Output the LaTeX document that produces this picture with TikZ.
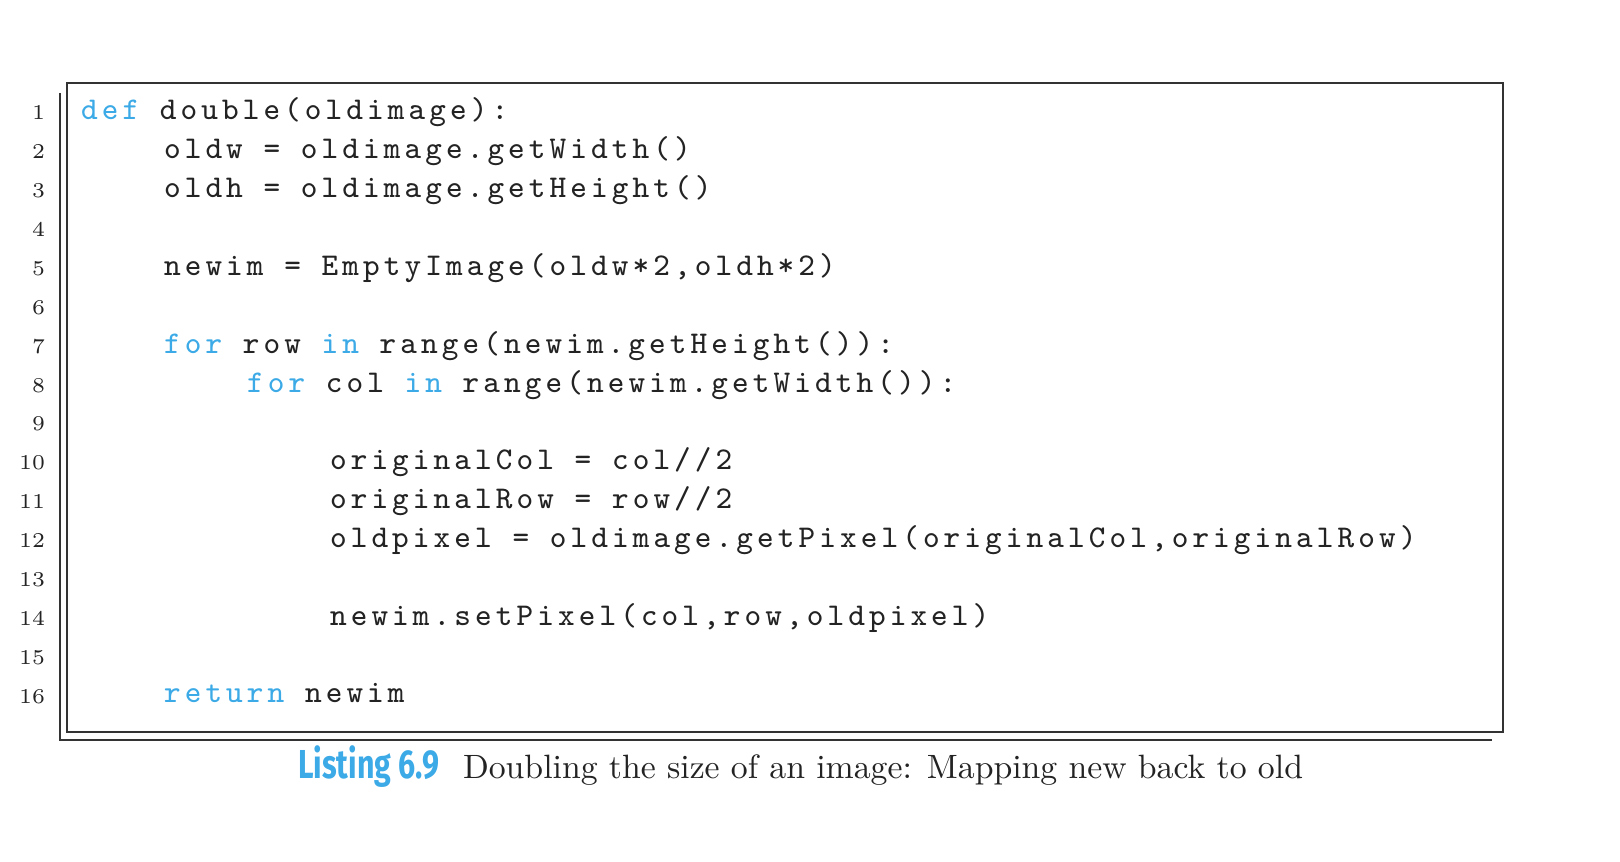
\documentclass[tikz,border=0pt]{standalone}
\usepackage{fontspec}
\usepackage{graphicx}
\newfontfamily\codefont{Latin Modern Mono}[LetterSpace=13]
\newfontfamily\capfont{Fira Sans}
\definecolor{kwblue}{RGB}{60,170,230}
\definecolor{codegray}{RGB}{35,35,35}
\newcommand{\kw}[1]{\textcolor{kwblue}{#1}}

\tikzset{
  code/.style={anchor=base west, inner sep=0pt, text=codegray, font=\codefont\fontsize{9}{10}\selectfont},
  lnum/.style={anchor=base east, inner sep=0pt, text=codegray, font=\fontsize{6}{8}\selectfont},
}

\begin{document}
\begin{tikzpicture}[x=0.01cm, y=-0.01cm, line width=0.6pt]
  \useasboundingbox (0,0) rectangle (1620,862);
  % frame with offset rule
  \draw[draw=black!80] (67,83) rectangle (1503,732);
  \draw[draw=black!80] (60,93) -- (60,740) -- (1492,740);
  % line numbers
  \foreach \i in {1,...,16}
    \node[lnum] (n\i) at (46,{120+(\i-1)*38.87}) {\i};
  % code
  \node[code] (l1)  at (80,120)    {\kw{def} double(oldimage):};
  \node[code] (l2)  at (163,158.9) {oldw = oldimage.getWidth()};
  \node[code] (l3)  at (163,197.7) {oldh = oldimage.getHeight()};
  \node[code] (l5)  at (163,275.5) {newim = EmptyImage(oldw*2,oldh*2)};
  \node[code] (l7)  at (163,353.2) {\kw{for} row \kw{in} range(newim.getHeight()):};
  \node[code] (l8)  at (246,392.1) {\kw{for} col \kw{in} range(newim.getWidth()):};
  \node[code] (l10) at (329,469.8) {originalCol = col//2};
  \node[code] (l11) at (329,508.7) {originalRow = row//2};
  \node[code] (l12) at (329,547.6) {oldpixel = oldimage.getPixel(originalCol,originalRow)};
  \node[code] (l14) at (329,625.4) {newim.setPixel(col,row,oldpixel)};
  \node[code] (l16) at (163,703)   {\kw{return} newim};
  % caption
  \node[anchor=base west, inner sep=0pt, text=kwblue, font=\capfont\fontsize{11.5}{14}\selectfont\bfseries] (cap) at (297,779) {\scalebox{0.75}[1]{Listing 6.9}};
  \node[anchor=base west, inner sep=0pt, text=codegray, font=\fontsize{9.6}{12}\selectfont] (captxt) at (462,779) {Doubling the size of an image: Mapping new back to old};
\end{tikzpicture}
\end{document}
